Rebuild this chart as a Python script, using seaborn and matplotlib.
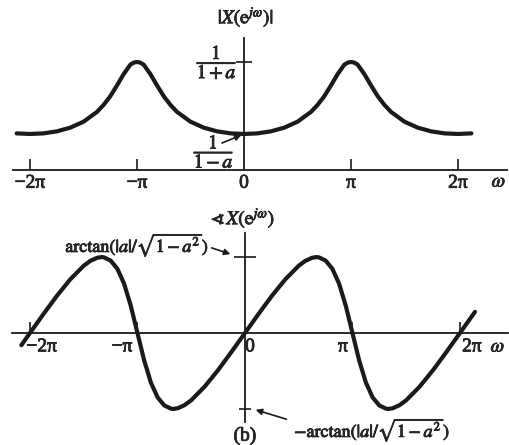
"""
Magnitude and phase of X(e^jw) for a negative a, redrawn with seaborn.
"""

import numpy as np
import pandas as pd
import matplotlib
matplotlib.use('Agg')
import matplotlib.pyplot as plt
import matplotlib.patheffects as pe
import seaborn as sns

# Values (frequency in units of pi)
mag_w = [-2.125, -2.0, -1.875, -1.75, -1.625, -1.5, -1.375, -1.3125, -1.25,
         -1.1875, -1.125, -1.0625, -1.03125, -1.0, -0.96875, -0.9375, -0.875,
         -0.8125, -0.75, -0.6875, -0.625, -0.5, -0.375, -0.25, -0.125, 0.0,
         0.125, 0.25, 0.375, 0.5, 0.625, 0.6875, 0.75, 0.8125, 0.875,
         0.9375, 0.96875, 1.0, 1.03125, 1.0625, 1.125, 1.1875, 1.25, 1.3125,
         1.375, 1.5, 1.625, 1.75, 1.875, 2.0, 2.125]
mag_val = [0.678, 0.667, 0.678, 0.715, 0.783, 0.894, 1.074, 1.205, 1.365,
           1.565, 1.775, 1.950, 1.988, 2.000, 1.988, 1.950, 1.775,
           1.565, 1.365, 1.205, 1.074, 0.894, 0.783, 0.715, 0.678, 0.667,
           0.678, 0.715, 0.783, 0.894, 1.074, 1.205, 1.365, 1.565, 1.775,
           1.950, 1.988, 2.000, 1.988, 1.950, 1.775, 1.565, 1.365, 1.205,
           1.074, 0.894, 0.783, 0.715, 0.678, 0.667, 0.678]

ph_w = [-2.08, -2.0, -1.875, -1.75, -1.625, -1.5, -1.4375, -1.375, -1.3333,
        -1.3125, -1.25, -1.1875, -1.125, -1.0625, -1.0, -0.9375, -0.875,
        -0.8125, -0.75, -0.6875, -0.6667, -0.625, -0.5625, -0.5, -0.375,
        -0.25, -0.125, 0.0, 0.125, 0.25, 0.375, 0.5, 0.5625, 0.625, 0.6667,
        0.6875, 0.75, 0.8125, 0.875, 0.9375, 1.0, 1.0625, 1.125, 1.1875,
        1.25, 1.3125, 1.3333, 1.375, 1.4375, 1.5, 1.625, 1.75, 1.875, 2.0,
        2.14]
ph_val = [-0.084, 0.0, 0.130, 0.256, 0.370, 0.464, 0.498, 0.519, 0.524,
          0.522, 0.500, 0.444, 0.342, 0.189, 0.0, -0.189, -0.342,
          -0.444, -0.500, -0.522, -0.524, -0.519, -0.498, -0.464, -0.370,
          -0.256, -0.130, 0.0, 0.130, 0.256, 0.370, 0.464, 0.498, 0.519, 0.524,
          0.522, 0.500, 0.444, 0.342, 0.189, 0.0, -0.189, -0.342, -0.444,
          -0.500, -0.522, -0.524, -0.519, -0.498, -0.464, -0.370, -0.256,
          -0.130, 0.0, 0.146]

tick_w = [-2, -1, 0, 1, 2]
tick_labels = ['\u22122\u03c0', '\u2212\u03c0', '0', '\u03c0', '2\u03c0']
low_label_pos = [-1.89, -1.144, 0.047, 0.912, 2.112]   # shifted labels, lower plot

mag_peak = 2.0
mag_min = 0.667
ph_peak = 0.524

sns.set_theme(style='white')
plt.rcParams['font.family'] = ['Liberation Serif', 'DejaVu Serif']
plt.rcParams['mathtext.fontset'] = 'stix'

W, H = 509, 445
# scanned print look: slightly heavier strokes on text
heavy = [pe.withStroke(linewidth=0.6, foreground='k')]


def fpx(x, y):
    """pixel (from top-left) -> figure fraction"""
    return (x / W, 1 - y / H)


def ftext(x, y, s, size=14):
    fig.text(*fpx(x, y), s, ha='center', va='center', fontsize=size,
             path_effects=heavy)


df_mag = pd.DataFrame({'w': np.array(mag_w) * np.pi, 'm': mag_val})
df_ph = pd.DataFrame({'w': np.array(ph_w) * np.pi, 'p': ph_val})

fig = plt.figure(figsize=(W / 100, H / 100), dpi=100)
ax1 = fig.add_axes([13 / W, 1 - 170 / H, 494 / W, 132 / H])
ax2 = fig.add_axes([12 / W, 1 - 422 / H, 496 / W, 189 / H])

for ax in (ax1, ax2):
    ax.set_facecolor('none')
    ax.spines['top'].set_visible(False)
    ax.spines['right'].set_visible(False)
    ax.spines['left'].set_position(('data', 0))
    ax.spines['bottom'].set_position(('data', 0))
    for s in ('left', 'bottom'):
        ax.spines[s].set_color('k')
        ax.spines[s].set_linewidth(1.3)

# ---- magnitude ----
sns.lineplot(data=df_mag, x='w', y='m', ax=ax1, color='k', lw=3, sort=False,
             solid_joinstyle='round', solid_capstyle='round')
ax1.set_xlim(-2.159 * np.pi, 2.458 * np.pi)
ax1.set_ylim(0, 2.444)
ax1.set_xlabel('')
ax1.set_ylabel('')
ax1.set_xticks([w * np.pi for w in tick_w if w != 0])
ax1.set_xticklabels([])
ax1.tick_params(axis='x', direction='in', length=8, width=1.2, color='k',
                bottom=True)
ax1.set_yticks([mag_peak])
ax1.set_yticklabels([])
ax1.tick_params(axis='y', direction='inout', length=11, width=1.2, color='k',
                left=True)
for w, lbl in zip(tick_w, tick_labels):
    ax1.annotate(lbl, xy=(w * np.pi, 0), xytext=(0, -9.5),
                 textcoords='offset points', ha='center', va='center',
                 fontsize=14, path_effects=heavy)
ftext(499, 182, r'$\omega$', 14)
ftext(246, 17, r'$|X(\mathrm{e}^{j\omega})|$', 14)
ftext(217, 62, r'$\dfrac{1}{1+a}$', 14)
ftext(214, 151, r'$\dfrac{1}{1-a}$', 14)
ax1.annotate('', xy=(0, mag_min), xycoords='data',
             xytext=fpx(222, 143), textcoords='figure fraction',
             arrowprops=dict(arrowstyle='-|>', color='k', lw=1.2,
                             mutation_scale=9, shrinkA=0, shrinkB=2))

# ---- phase ----
sns.lineplot(data=df_ph, x='w', y='p', ax=ax2, color='k', lw=3, sort=False,
             solid_joinstyle='round', solid_capstyle='round')
ax2.set_xlim(-2.167 * np.pi, 2.447 * np.pi)
ax2.set_ylim(-0.614, 0.69)
ax2.set_xlabel('')
ax2.set_ylabel('')
ax2.set_xticks([w * np.pi for w in tick_w if w != 0])
ax2.set_xticklabels([])
ax2.tick_params(axis='x', direction='in', length=8, width=1.2, color='k',
                bottom=True)
ax2.set_yticks([ph_peak])
ax2.set_yticks([-ph_peak], minor=True)
ax2.set_yticklabels([])
ax2.set_yticklabels([], minor=True)
ax2.tick_params(axis='y', which='major', direction='inout', length=16,
                width=1.2, color='k', left=True)
ax2.tick_params(axis='y', which='minor', direction='inout', length=9,
                width=1.2, color='k', left=True)
for x, lbl in zip(low_label_pos, tick_labels):
    ax2.annotate(lbl, xy=(x * np.pi, 0), xytext=(0, -10),
                 textcoords='offset points', ha='center', va='center',
                 fontsize=14, path_effects=heavy)
ftext(498, 347, r'$\omega$', 14)
ftext(243, 218, r'$\sphericalangle\, X(\mathrm{e}^{j\omega})$', 14)
ftext(137, 245, r'$\mathrm{arctan}(|a|/\sqrt{1-a^2})$', 13)
ftext(372, 430, r'$-\mathrm{arctan}(|a|/\sqrt{1-a^2})$', 13)
ftext(245, 436, '(b)', 14)
fig.add_artist(matplotlib.patches.FancyArrowPatch(
    fpx(209, 247), fpx(233, 255), transform=fig.transFigure,
    arrowstyle='-|>', color='k', lw=1.2, mutation_scale=9))
fig.add_artist(matplotlib.patches.FancyArrowPatch(
    fpx(289, 420), fpx(253, 409), transform=fig.transFigure,
    arrowstyle='-|>', color='k', lw=1.2, mutation_scale=9))

fig.savefig('out.png', dpi=100, facecolor='white')
